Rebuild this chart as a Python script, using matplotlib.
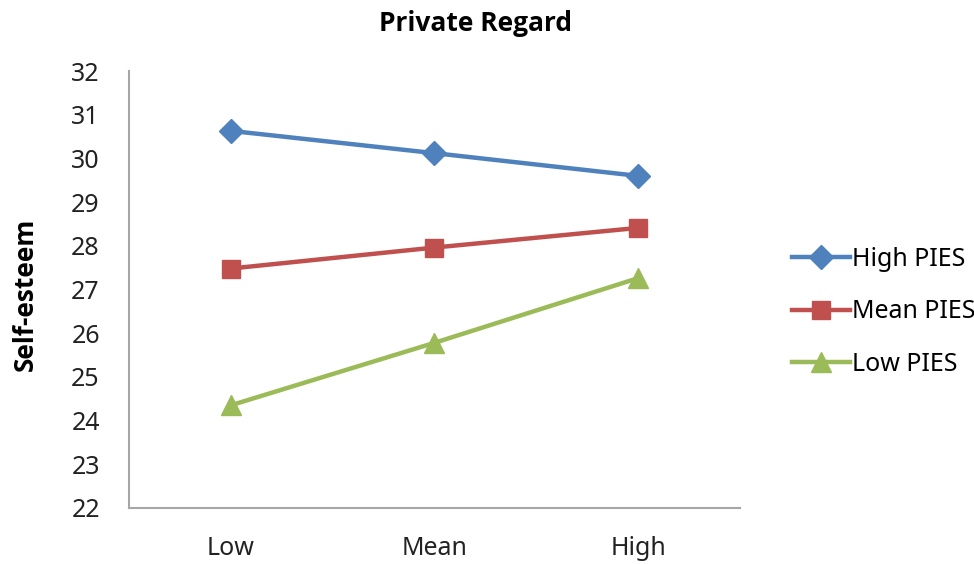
import numpy as np
import matplotlib.pyplot as plt

plt.rcParams['font.family'] = ['Noto Sans', 'DejaVu Sans']

# dati
categorie = ['Low', 'Mean', 'High']
high_pies = [30.63, 30.12, 29.60]
mean_pies = [27.48, 27.96, 28.41]
low_pies = [24.35, 25.78, 27.26]

fig = plt.figure(figsize=(9.74, 5.64), dpi=100)
ax = fig.add_axes([0.1324, 0.0993, 0.6273, 0.7748])

x = np.arange(len(categorie))
ax.plot(x, high_pies, color='#4F81BD', linewidth=3.2, marker='D', markersize=12, label='High PIES')
ax.plot(x, mean_pies, color='#C0504D', linewidth=3.2, marker='s', markersize=13.5, label='Mean PIES')
ax.plot(x, low_pies, color='#9BBB59', linewidth=3.2, marker='^', markersize=14.5, label='Low PIES')

#configurazione assi
ax.set_xlim(-0.5, 2.5)
ax.set_ylim(22, 32)
ax.set_yticks(np.arange(22, 33, 1))
ax.set_xticks(x)
ax.set_xticklabels(categorie)
ax.tick_params(length=0, labelsize=18, colors='#222222')
ax.tick_params(axis='y', pad=21)
ax.tick_params(axis='x', pad=20)
for s in ['top', 'right']:
    ax.spines[s].set_visible(False)
for s in ['left', 'bottom']:
    ax.spines[s].set_color('#A6A6A6')
    ax.spines[s].set_linewidth(1.5)

#testi in grassetto
ax.set_ylabel('Self-esteem', fontsize=19, fontweight='bold', family=['Open Sans', 'DejaVu Sans'])
ax.yaxis.set_label_coords(-0.147, 0.49)
fig.text(0.488, 0.959, 'Private Regard', ha='center', va='center', fontsize=19, fontweight='bold',
         family=['Open Sans', 'DejaVu Sans'])

fig.legend(loc='center left', bbox_to_anchor=(0.803, 0.447), frameon=False, fontsize=18,
           handlelength=2.3, handletextpad=0.1, labelspacing=1.1, borderaxespad=0)

fig.savefig('out.png', dpi=100)
